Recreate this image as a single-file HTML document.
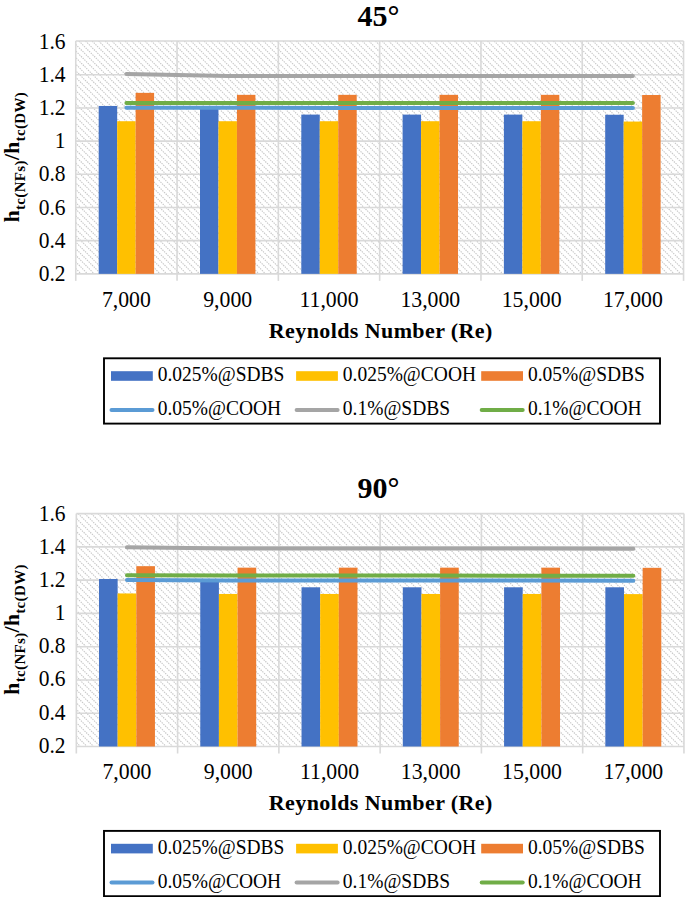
<!DOCTYPE html>
<html><head><meta charset="utf-8"><style>
html,body{margin:0;padding:0;background:#fff;}
svg{display:block;}
text{font-family:"Liberation Serif",serif;fill:#000;}
.n{font-size:22px;}
.yl{font-size:21.5px;}
.b{font-size:22px;font-weight:bold;}
.t{font-size:30px;font-weight:bold;}
.sub{font-size:15px;}
.lg{font-size:19.5px;}
.xt{font-size:22px;font-weight:bold;letter-spacing:0.4px;}
.yt{font-size:21.5px;font-weight:bold;letter-spacing:0.35px;}
.gl{stroke:#D9D9D9;stroke-width:1.6;}
</style></head><body>
<svg width="685" height="897" viewBox="0 0 685 897">
<rect width="685" height="897" fill="#fff"/>
<text x="378.50" y="25.90" text-anchor="middle" class="t">45°</text>
<clipPath id="cp0"><rect x="75.75" y="41.0" width="607.8" height="232.85000000000002"/></clipPath>
<path clip-path="url(#cp0)" d="M-158.34,41.00l232.85,232.85M-151.75,41.00l232.85,232.85M-145.16,41.00l232.85,232.85M-138.57,41.00l232.85,232.85M-131.98,41.00l232.85,232.85M-125.39,41.00l232.85,232.85M-118.80,41.00l232.85,232.85M-112.21,41.00l232.85,232.85M-105.62,41.00l232.85,232.85M-99.03,41.00l232.85,232.85M-92.44,41.00l232.85,232.85M-85.85,41.00l232.85,232.85M-79.26,41.00l232.85,232.85M-72.67,41.00l232.85,232.85M-66.08,41.00l232.85,232.85M-59.49,41.00l232.85,232.85M-52.90,41.00l232.85,232.85M-46.31,41.00l232.85,232.85M-39.72,41.00l232.85,232.85M-33.13,41.00l232.85,232.85M-26.54,41.00l232.85,232.85M-19.95,41.00l232.85,232.85M-13.36,41.00l232.85,232.85M-6.77,41.00l232.85,232.85M-0.18,41.00l232.85,232.85M6.41,41.00l232.85,232.85M13.00,41.00l232.85,232.85M19.59,41.00l232.85,232.85M26.18,41.00l232.85,232.85M32.77,41.00l232.85,232.85M39.36,41.00l232.85,232.85M45.95,41.00l232.85,232.85M52.54,41.00l232.85,232.85M59.13,41.00l232.85,232.85M65.72,41.00l232.85,232.85M72.31,41.00l232.85,232.85M78.90,41.00l232.85,232.85M85.49,41.00l232.85,232.85M92.08,41.00l232.85,232.85M98.67,41.00l232.85,232.85M105.26,41.00l232.85,232.85M111.85,41.00l232.85,232.85M118.44,41.00l232.85,232.85M125.03,41.00l232.85,232.85M131.62,41.00l232.85,232.85M138.21,41.00l232.85,232.85M144.80,41.00l232.85,232.85M151.39,41.00l232.85,232.85M157.98,41.00l232.85,232.85M164.57,41.00l232.85,232.85M171.16,41.00l232.85,232.85M177.75,41.00l232.85,232.85M184.34,41.00l232.85,232.85M190.93,41.00l232.85,232.85M197.52,41.00l232.85,232.85M204.11,41.00l232.85,232.85M210.70,41.00l232.85,232.85M217.29,41.00l232.85,232.85M223.88,41.00l232.85,232.85M230.47,41.00l232.85,232.85M237.06,41.00l232.85,232.85M243.65,41.00l232.85,232.85M250.24,41.00l232.85,232.85M256.83,41.00l232.85,232.85M263.42,41.00l232.85,232.85M270.01,41.00l232.85,232.85M276.60,41.00l232.85,232.85M283.19,41.00l232.85,232.85M289.78,41.00l232.85,232.85M296.37,41.00l232.85,232.85M302.96,41.00l232.85,232.85M309.55,41.00l232.85,232.85M316.14,41.00l232.85,232.85M322.73,41.00l232.85,232.85M329.32,41.00l232.85,232.85M335.91,41.00l232.85,232.85M342.50,41.00l232.85,232.85M349.09,41.00l232.85,232.85M355.68,41.00l232.85,232.85M362.27,41.00l232.85,232.85M368.86,41.00l232.85,232.85M375.45,41.00l232.85,232.85M382.04,41.00l232.85,232.85M388.63,41.00l232.85,232.85M395.22,41.00l232.85,232.85M401.81,41.00l232.85,232.85M408.40,41.00l232.85,232.85M414.99,41.00l232.85,232.85M421.58,41.00l232.85,232.85M428.17,41.00l232.85,232.85M434.76,41.00l232.85,232.85M441.35,41.00l232.85,232.85M447.94,41.00l232.85,232.85M454.53,41.00l232.85,232.85M461.12,41.00l232.85,232.85M467.71,41.00l232.85,232.85M474.30,41.00l232.85,232.85M480.89,41.00l232.85,232.85M487.48,41.00l232.85,232.85M494.07,41.00l232.85,232.85M500.66,41.00l232.85,232.85M507.25,41.00l232.85,232.85M513.84,41.00l232.85,232.85M520.43,41.00l232.85,232.85M527.02,41.00l232.85,232.85M533.61,41.00l232.85,232.85M540.20,41.00l232.85,232.85M546.79,41.00l232.85,232.85M553.38,41.00l232.85,232.85M559.97,41.00l232.85,232.85M566.56,41.00l232.85,232.85M573.15,41.00l232.85,232.85M579.74,41.00l232.85,232.85M586.33,41.00l232.85,232.85M592.92,41.00l232.85,232.85M599.51,41.00l232.85,232.85M606.10,41.00l232.85,232.85M612.69,41.00l232.85,232.85M619.28,41.00l232.85,232.85M625.87,41.00l232.85,232.85M632.46,41.00l232.85,232.85M639.05,41.00l232.85,232.85M645.64,41.00l232.85,232.85M652.23,41.00l232.85,232.85M658.82,41.00l232.85,232.85M665.41,41.00l232.85,232.85M672.00,41.00l232.85,232.85M678.59,41.00l232.85,232.85" stroke="#C8C8C8" stroke-width="1.15" stroke-dasharray="1.4 1.0" fill="none"/>
<line x1="75.75" x2="683.55" y1="273.85" y2="273.85" class="gl"/>
<line x1="75.75" x2="683.55" y1="240.67" y2="240.67" class="gl"/>
<line x1="75.75" x2="683.55" y1="207.49" y2="207.49" class="gl"/>
<line x1="75.75" x2="683.55" y1="174.31" y2="174.31" class="gl"/>
<line x1="75.75" x2="683.55" y1="141.13" y2="141.13" class="gl"/>
<line x1="75.75" x2="683.55" y1="107.95" y2="107.95" class="gl"/>
<line x1="75.75" x2="683.55" y1="74.77" y2="74.77" class="gl"/>
<line x1="75.75" x2="683.55" y1="41.00" y2="41.00" class="gl"/>
<line x1="75.75" x2="75.75" y1="41.00" y2="280.85" class="gl"/>
<line x1="177.05" x2="177.05" y1="41.00" y2="280.85" class="gl"/>
<line x1="278.35" x2="278.35" y1="41.00" y2="280.85" class="gl"/>
<line x1="379.65" x2="379.65" y1="41.00" y2="280.85" class="gl"/>
<line x1="480.95" x2="480.95" y1="41.00" y2="280.85" class="gl"/>
<line x1="582.25" x2="582.25" y1="41.00" y2="280.85" class="gl"/>
<line x1="683.55" x2="683.55" y1="41.00" y2="280.85" class="gl"/>
<rect x="98.70" y="105.96" width="18.47" height="167.89" fill="#4472C4"/>
<rect x="117.17" y="121.22" width="18.47" height="152.63" fill="#FFC000"/>
<rect x="135.63" y="92.85" width="18.47" height="181.00" fill="#ED7D31"/>
<rect x="200.00" y="108.78" width="18.47" height="165.07" fill="#4472C4"/>
<rect x="218.47" y="121.22" width="18.47" height="152.63" fill="#FFC000"/>
<rect x="236.94" y="94.84" width="18.47" height="179.01" fill="#ED7D31"/>
<rect x="301.30" y="114.59" width="18.47" height="159.26" fill="#4472C4"/>
<rect x="319.76" y="121.22" width="18.47" height="152.63" fill="#FFC000"/>
<rect x="338.24" y="94.84" width="18.47" height="179.01" fill="#ED7D31"/>
<rect x="402.60" y="114.59" width="18.47" height="159.26" fill="#4472C4"/>
<rect x="421.07" y="121.22" width="18.47" height="152.63" fill="#FFC000"/>
<rect x="439.54" y="94.84" width="18.47" height="179.01" fill="#ED7D31"/>
<rect x="503.89" y="114.59" width="18.47" height="159.26" fill="#4472C4"/>
<rect x="522.36" y="121.22" width="18.47" height="152.63" fill="#FFC000"/>
<rect x="540.83" y="94.84" width="18.47" height="179.01" fill="#ED7D31"/>
<rect x="605.19" y="114.75" width="18.47" height="159.10" fill="#4472C4"/>
<rect x="623.66" y="121.55" width="18.47" height="152.30" fill="#FFC000"/>
<rect x="642.13" y="95.01" width="18.47" height="178.84" fill="#ED7D31"/>
<polyline points="126.40,107.70 227.70,107.78 329.00,107.95 430.30,107.95 531.60,108.12 632.90,108.12" fill="none" stroke="#5B9BD5" stroke-width="4" stroke-linecap="round" stroke-linejoin="round"/>
<polyline points="126.40,73.94 227.70,75.93 329.00,75.93 430.30,75.93 531.60,75.93 632.90,75.93" fill="none" stroke="#A5A5A5" stroke-width="4" stroke-linecap="round" stroke-linejoin="round"/>
<polyline points="126.40,102.97 227.70,102.97 329.00,102.97 430.30,102.97 531.60,102.97 632.90,102.97" fill="none" stroke="#70AD47" stroke-width="4" stroke-linecap="round" stroke-linejoin="round"/>
<text transform="translate(65.50 280.85) scale(1.0 1.08)" text-anchor="end" class="yl">0.2</text>
<text transform="translate(65.50 247.71) scale(1.0 1.08)" text-anchor="end" class="yl">0.4</text>
<text transform="translate(65.50 214.57) scale(1.0 1.08)" text-anchor="end" class="yl">0.6</text>
<text transform="translate(65.50 181.43) scale(1.0 1.08)" text-anchor="end" class="yl">0.8</text>
<text transform="translate(65.50 148.29) scale(1.0 1.08)" text-anchor="end" class="yl">1</text>
<text transform="translate(65.50 115.15) scale(1.0 1.08)" text-anchor="end" class="yl">1.2</text>
<text transform="translate(65.50 82.01) scale(1.0 1.08)" text-anchor="end" class="yl">1.4</text>
<text transform="translate(65.50 48.87) scale(1.0 1.08)" text-anchor="end" class="yl">1.6</text>
<text transform="translate(126.40 306.80) scale(0.99 1.085)" text-anchor="middle" class="n">7,000</text>
<text transform="translate(227.70 306.80) scale(0.99 1.085)" text-anchor="middle" class="n">9,000</text>
<text transform="translate(329.00 306.80) scale(0.99 1.085)" text-anchor="middle" class="n">11,000</text>
<text transform="translate(430.30 306.80) scale(0.99 1.085)" text-anchor="middle" class="n">13,000</text>
<text transform="translate(531.60 306.80) scale(0.99 1.085)" text-anchor="middle" class="n">15,000</text>
<text transform="translate(632.90 306.80) scale(0.99 1.085)" text-anchor="middle" class="n">17,000</text>
<text x="380.8" y="337.80" text-anchor="middle" class="xt">Reynolds Number (Re)</text>
<text transform="translate(19.2 157.10) rotate(-90)" text-anchor="middle" class="yt">h<tspan class="sub" dy="5.4">tc(NFs)</tspan><tspan dy="-5.4">/h</tspan><tspan class="sub" dy="5.4">tc(DW)</tspan></text>
<rect x="104.0" y="358.30" width="556" height="65.3" fill="#fff" stroke="#000" stroke-width="1.9"/>
<rect x="111.00" y="371.20" width="41.8" height="9.6" fill="#4472C4"/>
<text transform="translate(157.70 380.90) scale(1.0 1.035)" class="lg">0.025%@SDBS</text>
<rect x="296.10" y="371.20" width="41.8" height="9.6" fill="#FFC000"/>
<text transform="translate(342.80 380.90) scale(1.0 1.035)" class="lg">0.025%@COOH</text>
<rect x="481.20" y="371.20" width="41.8" height="9.6" fill="#ED7D31"/>
<text transform="translate(527.90 380.90) scale(1.0 1.035)" class="lg">0.05%@SDBS</text>
<line x1="111.50" x2="152.50" y1="410.00" y2="410.00" stroke="#5B9BD5" stroke-width="4" stroke-linecap="round"/>
<text transform="translate(157.70 414.90) scale(1.0 1.035)" class="lg">0.05%@COOH</text>
<line x1="296.60" x2="337.60" y1="410.00" y2="410.00" stroke="#A5A5A5" stroke-width="4" stroke-linecap="round"/>
<text transform="translate(342.80 414.90) scale(1.0 1.035)" class="lg">0.1%@SDBS</text>
<line x1="481.70" x2="522.70" y1="410.00" y2="410.00" stroke="#70AD47" stroke-width="4" stroke-linecap="round"/>
<text transform="translate(527.90 414.90) scale(1.0 1.035)" class="lg">0.1%@COOH</text>
<text x="378.50" y="498.00" text-anchor="middle" class="t">90°</text>
<clipPath id="cp1"><rect x="76.33" y="513.6" width="607.62" height="232.89999999999998"/></clipPath>
<path clip-path="url(#cp1)" d="M-159.07,513.60l232.90,232.90M-152.48,513.60l232.90,232.90M-145.89,513.60l232.90,232.90M-139.30,513.60l232.90,232.90M-132.71,513.60l232.90,232.90M-126.12,513.60l232.90,232.90M-119.53,513.60l232.90,232.90M-112.94,513.60l232.90,232.90M-106.35,513.60l232.90,232.90M-99.76,513.60l232.90,232.90M-93.17,513.60l232.90,232.90M-86.58,513.60l232.90,232.90M-79.99,513.60l232.90,232.90M-73.40,513.60l232.90,232.90M-66.81,513.60l232.90,232.90M-60.22,513.60l232.90,232.90M-53.63,513.60l232.90,232.90M-47.04,513.60l232.90,232.90M-40.45,513.60l232.90,232.90M-33.86,513.60l232.90,232.90M-27.27,513.60l232.90,232.90M-20.68,513.60l232.90,232.90M-14.09,513.60l232.90,232.90M-7.50,513.60l232.90,232.90M-0.91,513.60l232.90,232.90M5.68,513.60l232.90,232.90M12.27,513.60l232.90,232.90M18.86,513.60l232.90,232.90M25.45,513.60l232.90,232.90M32.04,513.60l232.90,232.90M38.63,513.60l232.90,232.90M45.22,513.60l232.90,232.90M51.81,513.60l232.90,232.90M58.40,513.60l232.90,232.90M64.99,513.60l232.90,232.90M71.58,513.60l232.90,232.90M78.17,513.60l232.90,232.90M84.76,513.60l232.90,232.90M91.35,513.60l232.90,232.90M97.94,513.60l232.90,232.90M104.53,513.60l232.90,232.90M111.12,513.60l232.90,232.90M117.71,513.60l232.90,232.90M124.30,513.60l232.90,232.90M130.89,513.60l232.90,232.90M137.48,513.60l232.90,232.90M144.07,513.60l232.90,232.90M150.66,513.60l232.90,232.90M157.25,513.60l232.90,232.90M163.84,513.60l232.90,232.90M170.43,513.60l232.90,232.90M177.02,513.60l232.90,232.90M183.61,513.60l232.90,232.90M190.20,513.60l232.90,232.90M196.79,513.60l232.90,232.90M203.38,513.60l232.90,232.90M209.97,513.60l232.90,232.90M216.56,513.60l232.90,232.90M223.15,513.60l232.90,232.90M229.74,513.60l232.90,232.90M236.33,513.60l232.90,232.90M242.92,513.60l232.90,232.90M249.51,513.60l232.90,232.90M256.10,513.60l232.90,232.90M262.69,513.60l232.90,232.90M269.28,513.60l232.90,232.90M275.87,513.60l232.90,232.90M282.46,513.60l232.90,232.90M289.05,513.60l232.90,232.90M295.64,513.60l232.90,232.90M302.23,513.60l232.90,232.90M308.82,513.60l232.90,232.90M315.41,513.60l232.90,232.90M322.00,513.60l232.90,232.90M328.59,513.60l232.90,232.90M335.18,513.60l232.90,232.90M341.77,513.60l232.90,232.90M348.36,513.60l232.90,232.90M354.95,513.60l232.90,232.90M361.54,513.60l232.90,232.90M368.13,513.60l232.90,232.90M374.72,513.60l232.90,232.90M381.31,513.60l232.90,232.90M387.90,513.60l232.90,232.90M394.49,513.60l232.90,232.90M401.08,513.60l232.90,232.90M407.67,513.60l232.90,232.90M414.26,513.60l232.90,232.90M420.85,513.60l232.90,232.90M427.44,513.60l232.90,232.90M434.03,513.60l232.90,232.90M440.62,513.60l232.90,232.90M447.21,513.60l232.90,232.90M453.80,513.60l232.90,232.90M460.39,513.60l232.90,232.90M466.98,513.60l232.90,232.90M473.57,513.60l232.90,232.90M480.16,513.60l232.90,232.90M486.75,513.60l232.90,232.90M493.34,513.60l232.90,232.90M499.93,513.60l232.90,232.90M506.52,513.60l232.90,232.90M513.11,513.60l232.90,232.90M519.70,513.60l232.90,232.90M526.29,513.60l232.90,232.90M532.88,513.60l232.90,232.90M539.47,513.60l232.90,232.90M546.06,513.60l232.90,232.90M552.65,513.60l232.90,232.90M559.24,513.60l232.90,232.90M565.83,513.60l232.90,232.90M572.42,513.60l232.90,232.90M579.01,513.60l232.90,232.90M585.60,513.60l232.90,232.90M592.19,513.60l232.90,232.90M598.78,513.60l232.90,232.90M605.37,513.60l232.90,232.90M611.96,513.60l232.90,232.90M618.55,513.60l232.90,232.90M625.14,513.60l232.90,232.90M631.73,513.60l232.90,232.90M638.32,513.60l232.90,232.90M644.91,513.60l232.90,232.90M651.50,513.60l232.90,232.90M658.09,513.60l232.90,232.90M664.68,513.60l232.90,232.90M671.27,513.60l232.90,232.90M677.86,513.60l232.90,232.90" stroke="#C8C8C8" stroke-width="1.15" stroke-dasharray="1.4 1.0" fill="none"/>
<line x1="76.33" x2="683.95" y1="746.50" y2="746.50" class="gl"/>
<line x1="76.33" x2="683.95" y1="713.23" y2="713.23" class="gl"/>
<line x1="76.33" x2="683.95" y1="679.96" y2="679.96" class="gl"/>
<line x1="76.33" x2="683.95" y1="646.68" y2="646.68" class="gl"/>
<line x1="76.33" x2="683.95" y1="613.41" y2="613.41" class="gl"/>
<line x1="76.33" x2="683.95" y1="580.14" y2="580.14" class="gl"/>
<line x1="76.33" x2="683.95" y1="546.87" y2="546.87" class="gl"/>
<line x1="76.33" x2="683.95" y1="513.60" y2="513.60" class="gl"/>
<line x1="76.33" x2="76.33" y1="513.60" y2="753.50" class="gl"/>
<line x1="177.60" x2="177.60" y1="513.60" y2="753.50" class="gl"/>
<line x1="278.87" x2="278.87" y1="513.60" y2="753.50" class="gl"/>
<line x1="380.14" x2="380.14" y1="513.60" y2="753.50" class="gl"/>
<line x1="481.41" x2="481.41" y1="513.60" y2="753.50" class="gl"/>
<line x1="582.68" x2="582.68" y1="513.60" y2="753.50" class="gl"/>
<line x1="683.95" x2="683.95" y1="513.60" y2="753.50" class="gl"/>
<rect x="98.99" y="578.98" width="18.65" height="167.52" fill="#4472C4"/>
<rect x="117.64" y="593.45" width="18.65" height="153.05" fill="#FFC000"/>
<rect x="136.29" y="566.17" width="18.65" height="180.33" fill="#ED7D31"/>
<rect x="200.26" y="581.80" width="18.65" height="164.70" fill="#4472C4"/>
<rect x="218.91" y="593.95" width="18.65" height="152.55" fill="#FFC000"/>
<rect x="237.56" y="567.66" width="18.65" height="178.84" fill="#ED7D31"/>
<rect x="301.53" y="587.29" width="18.65" height="159.21" fill="#4472C4"/>
<rect x="320.18" y="593.95" width="18.65" height="152.55" fill="#FFC000"/>
<rect x="338.83" y="567.66" width="18.65" height="178.84" fill="#ED7D31"/>
<rect x="402.80" y="587.29" width="18.65" height="159.21" fill="#4472C4"/>
<rect x="421.45" y="593.95" width="18.65" height="152.55" fill="#FFC000"/>
<rect x="440.10" y="567.66" width="18.65" height="178.84" fill="#ED7D31"/>
<rect x="504.07" y="587.29" width="18.65" height="159.21" fill="#4472C4"/>
<rect x="522.72" y="593.95" width="18.65" height="152.55" fill="#FFC000"/>
<rect x="541.37" y="567.66" width="18.65" height="178.84" fill="#ED7D31"/>
<rect x="605.34" y="587.29" width="18.65" height="159.21" fill="#4472C4"/>
<rect x="623.99" y="594.11" width="18.65" height="152.39" fill="#FFC000"/>
<rect x="642.64" y="567.83" width="18.65" height="178.67" fill="#ED7D31"/>
<polyline points="126.97,579.91 228.24,580.41 329.50,580.41 430.77,580.51 532.04,580.61 633.32,580.71" fill="none" stroke="#5B9BD5" stroke-width="4" stroke-linecap="round" stroke-linejoin="round"/>
<polyline points="126.97,547.37 228.24,548.53 329.50,548.53 430.77,548.53 532.04,548.53 633.32,548.70" fill="none" stroke="#A5A5A5" stroke-width="4" stroke-linecap="round" stroke-linejoin="round"/>
<polyline points="126.97,575.20 228.24,575.60 329.50,575.60 430.77,575.60 532.04,575.70 633.32,575.70" fill="none" stroke="#70AD47" stroke-width="4" stroke-linecap="round" stroke-linejoin="round"/>
<text transform="translate(65.50 752.65) scale(1.0 1.08)" text-anchor="end" class="yl">0.2</text>
<text transform="translate(65.50 719.51) scale(1.0 1.08)" text-anchor="end" class="yl">0.4</text>
<text transform="translate(65.50 686.37) scale(1.0 1.08)" text-anchor="end" class="yl">0.6</text>
<text transform="translate(65.50 653.23) scale(1.0 1.08)" text-anchor="end" class="yl">0.8</text>
<text transform="translate(65.50 620.09) scale(1.0 1.08)" text-anchor="end" class="yl">1</text>
<text transform="translate(65.50 586.95) scale(1.0 1.08)" text-anchor="end" class="yl">1.2</text>
<text transform="translate(65.50 553.81) scale(1.0 1.08)" text-anchor="end" class="yl">1.4</text>
<text transform="translate(65.50 520.67) scale(1.0 1.08)" text-anchor="end" class="yl">1.6</text>
<text transform="translate(126.97 778.50) scale(0.99 1.085)" text-anchor="middle" class="n">7,000</text>
<text transform="translate(228.24 778.50) scale(0.99 1.085)" text-anchor="middle" class="n">9,000</text>
<text transform="translate(329.50 778.50) scale(0.99 1.085)" text-anchor="middle" class="n">11,000</text>
<text transform="translate(430.77 778.50) scale(0.99 1.085)" text-anchor="middle" class="n">13,000</text>
<text transform="translate(532.04 778.50) scale(0.99 1.085)" text-anchor="middle" class="n">15,000</text>
<text transform="translate(633.32 778.50) scale(0.99 1.085)" text-anchor="middle" class="n">17,000</text>
<text x="380.8" y="810.40" text-anchor="middle" class="xt">Reynolds Number (Re)</text>
<text transform="translate(19.2 629.40) rotate(-90)" text-anchor="middle" class="yt">h<tspan class="sub" dy="5.4">tc(NFs)</tspan><tspan dy="-5.4">/h</tspan><tspan class="sub" dy="5.4">tc(DW)</tspan></text>
<rect x="104.0" y="830.90" width="556" height="65.3" fill="#fff" stroke="#000" stroke-width="1.9"/>
<rect x="111.00" y="843.80" width="41.8" height="9.6" fill="#4472C4"/>
<text transform="translate(157.70 853.50) scale(1.0 1.035)" class="lg">0.025%@SDBS</text>
<rect x="296.10" y="843.80" width="41.8" height="9.6" fill="#FFC000"/>
<text transform="translate(342.80 853.50) scale(1.0 1.035)" class="lg">0.025%@COOH</text>
<rect x="481.20" y="843.80" width="41.8" height="9.6" fill="#ED7D31"/>
<text transform="translate(527.90 853.50) scale(1.0 1.035)" class="lg">0.05%@SDBS</text>
<line x1="111.50" x2="152.50" y1="882.60" y2="882.60" stroke="#5B9BD5" stroke-width="4" stroke-linecap="round"/>
<text transform="translate(157.70 887.50) scale(1.0 1.035)" class="lg">0.05%@COOH</text>
<line x1="296.60" x2="337.60" y1="882.60" y2="882.60" stroke="#A5A5A5" stroke-width="4" stroke-linecap="round"/>
<text transform="translate(342.80 887.50) scale(1.0 1.035)" class="lg">0.1%@SDBS</text>
<line x1="481.70" x2="522.70" y1="882.60" y2="882.60" stroke="#70AD47" stroke-width="4" stroke-linecap="round"/>
<text transform="translate(527.90 887.50) scale(1.0 1.035)" class="lg">0.1%@COOH</text>
</svg>
</body></html>
